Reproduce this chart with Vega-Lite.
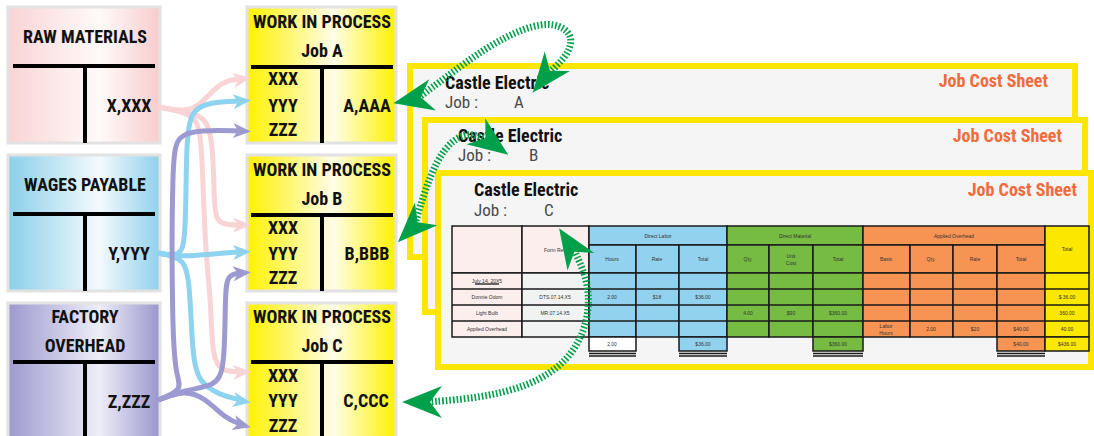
{
  "$schema": "https://vega.github.io/schema/vega-lite/v6.json",
  "width": 1094,
  "height": 436,
  "autosize": {"type": "none"},
  "padding": 0,
  "background": "white",
  "config": {"view": {"stroke": null}},
  "datasets": {
    "sheets": [
      {"x": 410, "x2": 1075, "y": 66, "y2": 257},
      {"x": 425, "x2": 1085, "y": 120, "y2": 312},
      {"x": 438, "x2": 1091, "y": 173, "y2": 367}
    ],
    "boxes": [
      {"k": "rm", "x": 8, "x2": 160, "y": 7, "y2": 143},
      {"k": "wp", "x": 8, "x2": 160, "y": 155, "y2": 291},
      {"k": "fo", "x": 8, "x2": 160, "y": 303, "y2": 440},
      {"k": "wip", "x": 247, "x2": 396, "y": 7, "y2": 143},
      {"k": "wip", "x": 247, "x2": 396, "y": 155, "y2": 291},
      {"k": "wip", "x": 247, "x2": 396, "y": 303, "y2": 440}
    ],
    "tlines": [
      {"x": 13, "x2": 155, "y": 66, "y2": 66},
      {"x": 85, "x2": 85, "y": 66, "y2": 143},
      {"x": 13, "x2": 155, "y": 214, "y2": 214},
      {"x": 85, "x2": 85, "y": 214, "y2": 291},
      {"x": 13, "x2": 155, "y": 362, "y2": 362},
      {"x": 85, "x2": 85, "y": 362, "y2": 440},
      {"x": 251, "x2": 393, "y": 67, "y2": 67},
      {"x": 322, "x2": 322, "y": 67, "y2": 143},
      {"x": 251, "x2": 393, "y": 215, "y2": 215},
      {"x": 322, "x2": 322, "y": 215, "y2": 291},
      {"x": 251, "x2": 393, "y": 362, "y2": 362},
      {"x": 322, "x2": 322, "y": 362, "y2": 440}
    ],
    "labels": [
      {"g": "acct", "x": 85, "y": 38, "text": "RAW MATERIALS"},
      {"g": "acct", "x": 85, "y": 186, "text": "WAGES PAYABLE"},
      {"g": "acct", "x": 85, "y": 318, "text": "FACTORY"},
      {"g": "acct", "x": 85, "y": 347, "text": "OVERHEAD"},
      {"g": "acct", "x": 129, "y": 107, "text": "X,XXX"},
      {"g": "acct", "x": 129, "y": 255, "text": "Y,YYY"},
      {"g": "acct", "x": 129, "y": 403, "text": "Z,ZZZ"},
      {"g": "acct", "x": 322, "y": 23, "text": "WORK IN PROCESS"},
      {"g": "acct", "x": 322, "y": 52, "text": "Job A"},
      {"g": "acct", "x": 283, "y": 80, "text": "XXX"},
      {"g": "acct", "x": 283, "y": 107, "text": "YYY"},
      {"g": "acct", "x": 283, "y": 131, "text": "ZZZ"},
      {"g": "acct", "x": 367, "y": 107, "text": "A,AAA"},
      {"g": "acct", "x": 322, "y": 171, "text": "WORK IN PROCESS"},
      {"g": "acct", "x": 322, "y": 200, "text": "Job B"},
      {"g": "acct", "x": 283, "y": 229, "text": "XXX"},
      {"g": "acct", "x": 283, "y": 255, "text": "YYY"},
      {"g": "acct", "x": 283, "y": 279, "text": "ZZZ"},
      {"g": "acct", "x": 367, "y": 255, "text": "B,BBB"},
      {"g": "acct", "x": 322, "y": 318, "text": "WORK IN PROCESS"},
      {"g": "acct", "x": 322, "y": 347, "text": "Job C"},
      {"g": "acct", "x": 283, "y": 377, "text": "XXX"},
      {"g": "acct", "x": 283, "y": 402, "text": "YYY"},
      {"g": "acct", "x": 283, "y": 427, "text": "ZZZ"},
      {"g": "acct", "x": 366, "y": 402, "text": "C,CCC"},
      {"g": "ce", "x": 445, "y": 84, "text": "Castle Electric"},
      {"g": "ce", "x": 458, "y": 137, "text": "Castle Electric"},
      {"g": "ce", "x": 474, "y": 191, "text": "Castle Electric"},
      {"g": "job", "x": 445, "y": 103, "text": "Job :"},
      {"g": "job", "x": 514, "y": 103, "text": "A"},
      {"g": "job", "x": 458, "y": 156, "text": "Job :"},
      {"g": "job", "x": 529, "y": 156, "text": "B"},
      {"g": "job", "x": 474, "y": 211, "text": "Job :"},
      {"g": "job", "x": 544, "y": 211, "text": "C"},
      {"g": "jcs", "x": 1048, "y": 82, "text": "Job Cost Sheet"},
      {"g": "jcs", "x": 1062, "y": 137, "text": "Job Cost Sheet"},
      {"g": "jcs", "x": 1077, "y": 191, "text": "Job Cost Sheet"}
    ],
    "cells": [
      {"c": "pink", "x": 452, "x2": 522, "y": 226, "y2": 273},
      {"c": "pink", "x": 522, "x2": 589, "y": 226, "y2": 273},
      {"c": "blue", "x": 589, "x2": 727, "y": 226, "y2": 245},
      {"c": "blue", "x": 589, "x2": 636, "y": 245, "y2": 273},
      {"c": "blue", "x": 636, "x2": 679, "y": 245, "y2": 273},
      {"c": "blue", "x": 679, "x2": 727, "y": 245, "y2": 273},
      {"c": "green", "x": 727, "x2": 863, "y": 226, "y2": 245},
      {"c": "green", "x": 727, "x2": 769, "y": 245, "y2": 273},
      {"c": "green", "x": 769, "x2": 813, "y": 245, "y2": 273},
      {"c": "green", "x": 813, "x2": 863, "y": 245, "y2": 273},
      {"c": "orange", "x": 863, "x2": 1045, "y": 226, "y2": 245},
      {"c": "orange", "x": 863, "x2": 910, "y": 245, "y2": 273},
      {"c": "orange", "x": 910, "x2": 953, "y": 245, "y2": 273},
      {"c": "orange", "x": 953, "x2": 997, "y": 245, "y2": 273},
      {"c": "orange", "x": 997, "x2": 1045, "y": 245, "y2": 273},
      {"c": "yellow", "x": 1045, "x2": 1089, "y": 226, "y2": 273},
      {"c": "pink", "x": 452, "x2": 522, "y": 273, "y2": 337},
      {"c": "gray", "x": 522, "x2": 589, "y": 273, "y2": 337},
      {"c": "blue", "x": 589, "x2": 636, "y": 273, "y2": 337},
      {"c": "blue", "x": 636, "x2": 679, "y": 273, "y2": 337},
      {"c": "blue", "x": 679, "x2": 727, "y": 273, "y2": 337},
      {"c": "green", "x": 727, "x2": 769, "y": 273, "y2": 337},
      {"c": "green", "x": 769, "x2": 813, "y": 273, "y2": 337},
      {"c": "green", "x": 813, "x2": 863, "y": 273, "y2": 337},
      {"c": "orange", "x": 863, "x2": 910, "y": 273, "y2": 337},
      {"c": "orange", "x": 910, "x2": 953, "y": 273, "y2": 337},
      {"c": "orange", "x": 953, "x2": 997, "y": 273, "y2": 337},
      {"c": "orange", "x": 997, "x2": 1045, "y": 273, "y2": 337},
      {"c": "yellow", "x": 1045, "x2": 1089, "y": 273, "y2": 337},
      {"c": "white", "x": 589, "x2": 636, "y": 337, "y2": 351},
      {"c": "blue", "x": 679, "x2": 727, "y": 337, "y2": 351},
      {"c": "green", "x": 813, "x2": 863, "y": 337, "y2": 351},
      {"c": "orange", "x": 997, "x2": 1045, "y": 337, "y2": 351},
      {"c": "yellow", "x": 1045, "x2": 1089, "y": 337, "y2": 351}
    ],
    "trules": [
      {"x": 452, "x2": 1089, "y": 289, "y2": 289},
      {"x": 452, "x2": 1089, "y": 305, "y2": 305},
      {"x": 452, "x2": 1089, "y": 321, "y2": 321},
      {"x": 589, "x2": 636, "y": 353.5, "y2": 353.5},
      {"x": 589, "x2": 636, "y": 356, "y2": 356},
      {"x": 679, "x2": 727, "y": 353.5, "y2": 353.5},
      {"x": 679, "x2": 727, "y": 356, "y2": 356},
      {"x": 813, "x2": 863, "y": 353.5, "y2": 353.5},
      {"x": 813, "x2": 863, "y": 356, "y2": 356},
      {"x": 997, "x2": 1045, "y": 353.5, "y2": 353.5},
      {"x": 997, "x2": 1045, "y": 356, "y2": 356},
      {"x": 475, "x2": 499, "y": 284, "y2": 284}
    ],
    "ttext": [
      {"x": 555, "y": 250, "text": "Form Ref."},
      {"x": 658, "y": 235.5, "text": "Direct Labor"},
      {"x": 612, "y": 259, "text": "Hours"},
      {"x": 657, "y": 259, "text": "Rate"},
      {"x": 703, "y": 259, "text": "Total"},
      {"x": 795, "y": 235.5, "text": "Direct Material"},
      {"x": 748, "y": 259, "text": "Qty."},
      {"x": 791, "y": 256, "text": "Unit\nCost"},
      {"x": 838, "y": 259, "text": "Total"},
      {"x": 954, "y": 235.5, "text": "Applied Overhead"},
      {"x": 886, "y": 259, "text": "Basis"},
      {"x": 931, "y": 259, "text": "Qty."},
      {"x": 975, "y": 259, "text": "Rate"},
      {"x": 1021, "y": 259, "text": "Total"},
      {"x": 1067, "y": 249, "text": "Total"},
      {"x": 487, "y": 281, "text": "July 14, 20X5"},
      {"x": 487, "y": 297, "text": "Donnie Odom"},
      {"x": 555, "y": 297, "text": "DTS.07.14.X5"},
      {"x": 612, "y": 297, "text": "2.00"},
      {"x": 657, "y": 297, "text": "$18"},
      {"x": 703, "y": 297, "text": "$36.00"},
      {"x": 1067, "y": 297, "text": "$ 36.00"},
      {"x": 487, "y": 313, "text": "Light Bulb"},
      {"x": 555, "y": 313, "text": "MR.07.14.X5"},
      {"x": 748, "y": 313, "text": "4.00"},
      {"x": 791, "y": 313, "text": "$90"},
      {"x": 838, "y": 313, "text": "$360.00"},
      {"x": 1067, "y": 313, "text": "360.00"},
      {"x": 487, "y": 329, "text": "Applied Overhead"},
      {"x": 886, "y": 326, "text": "Labor\nHours"},
      {"x": 931, "y": 329, "text": "2.00"},
      {"x": 975, "y": 329, "text": "$20"},
      {"x": 1021, "y": 329, "text": "$40.00"},
      {"x": 1067, "y": 329, "text": "40.00"},
      {"x": 612, "y": 344, "text": "2.00"},
      {"x": 703, "y": 344, "text": "$36.00"},
      {"x": 838, "y": 344, "text": "$360.00"},
      {"x": 1021, "y": 344, "text": "$40.00"},
      {"x": 1067, "y": 344, "text": "$436.00"}
    ],
    "flows": [
      {"p": "pA", "c": "rm", "o": 1, "x": 158, "y": 107},
      {"p": "pA", "c": "rm", "o": 2, "x": 185, "y": 112},
      {"p": "pA", "c": "rm", "o": 3, "x": 200, "y": 105},
      {"p": "pA", "c": "rm", "o": 4, "x": 215, "y": 88},
      {"p": "pA", "c": "rm", "o": 5, "x": 228, "y": 80},
      {"p": "pA", "c": "rm", "o": 6, "x": 240, "y": 79},
      {"p": "pB", "c": "rm", "o": 1, "x": 158, "y": 107},
      {"p": "pB", "c": "rm", "o": 2, "x": 185, "y": 112},
      {"p": "pB", "c": "rm", "o": 3, "x": 205, "y": 116},
      {"p": "pB", "c": "rm", "o": 4, "x": 213, "y": 140},
      {"p": "pB", "c": "rm", "o": 5, "x": 214, "y": 200},
      {"p": "pB", "c": "rm", "o": 6, "x": 216, "y": 222},
      {"p": "pB", "c": "rm", "o": 7, "x": 228, "y": 225},
      {"p": "pB", "c": "rm", "o": 8, "x": 240, "y": 225},
      {"p": "pC", "c": "rm", "o": 1, "x": 158, "y": 107},
      {"p": "pC", "c": "rm", "o": 2, "x": 185, "y": 112},
      {"p": "pC", "c": "rm", "o": 3, "x": 198, "y": 120},
      {"p": "pC", "c": "rm", "o": 4, "x": 202, "y": 145},
      {"p": "pC", "c": "rm", "o": 5, "x": 205, "y": 250},
      {"p": "pC", "c": "rm", "o": 6, "x": 211, "y": 300},
      {"p": "pC", "c": "rm", "o": 7, "x": 212, "y": 355},
      {"p": "pC", "c": "rm", "o": 8, "x": 220, "y": 371},
      {"p": "pC", "c": "rm", "o": 9, "x": 240, "y": 372},
      {"p": "bA", "c": "wp", "o": 1, "x": 158, "y": 253},
      {"p": "bA", "c": "wp", "o": 2, "x": 180, "y": 257},
      {"p": "bA", "c": "wp", "o": 3, "x": 186, "y": 240},
      {"p": "bA", "c": "wp", "o": 4, "x": 186, "y": 140},
      {"p": "bA", "c": "wp", "o": 5, "x": 191, "y": 110},
      {"p": "bA", "c": "wp", "o": 6, "x": 210, "y": 102},
      {"p": "bA", "c": "wp", "o": 7, "x": 240, "y": 101},
      {"p": "bB", "c": "wp", "o": 1, "x": 158, "y": 253},
      {"p": "bB", "c": "wp", "o": 2, "x": 185, "y": 257},
      {"p": "bB", "c": "wp", "o": 3, "x": 210, "y": 254},
      {"p": "bB", "c": "wp", "o": 4, "x": 240, "y": 252},
      {"p": "bC", "c": "wp", "o": 1, "x": 158, "y": 253},
      {"p": "bC", "c": "wp", "o": 2, "x": 180, "y": 257},
      {"p": "bC", "c": "wp", "o": 3, "x": 190, "y": 272},
      {"p": "bC", "c": "wp", "o": 4, "x": 192, "y": 360},
      {"p": "bC", "c": "wp", "o": 5, "x": 200, "y": 383},
      {"p": "bC", "c": "wp", "o": 6, "x": 220, "y": 395},
      {"p": "bC", "c": "wp", "o": 7, "x": 240, "y": 400},
      {"p": "uA", "c": "fo", "o": 1, "x": 158, "y": 400},
      {"p": "uA", "c": "fo", "o": 2, "x": 183, "y": 390},
      {"p": "uA", "c": "fo", "o": 3, "x": 176, "y": 376},
      {"p": "uA", "c": "fo", "o": 4, "x": 172, "y": 330},
      {"p": "uA", "c": "fo", "o": 5, "x": 172, "y": 160},
      {"p": "uA", "c": "fo", "o": 6, "x": 177, "y": 135},
      {"p": "uA", "c": "fo", "o": 7, "x": 200, "y": 130},
      {"p": "uA", "c": "fo", "o": 8, "x": 240, "y": 131},
      {"p": "uB", "c": "fo", "o": 1, "x": 158, "y": 400},
      {"p": "uB", "c": "fo", "o": 2, "x": 185, "y": 390},
      {"p": "uB", "c": "fo", "o": 3, "x": 215, "y": 386},
      {"p": "uB", "c": "fo", "o": 4, "x": 225, "y": 370},
      {"p": "uB", "c": "fo", "o": 5, "x": 225, "y": 290},
      {"p": "uB", "c": "fo", "o": 6, "x": 228, "y": 275},
      {"p": "uB", "c": "fo", "o": 7, "x": 240, "y": 273},
      {"p": "uC", "c": "fo", "o": 1, "x": 158, "y": 400},
      {"p": "uC", "c": "fo", "o": 2, "x": 185, "y": 390},
      {"p": "uC", "c": "fo", "o": 3, "x": 205, "y": 398},
      {"p": "uC", "c": "fo", "o": 4, "x": 225, "y": 418},
      {"p": "uC", "c": "fo", "o": 5, "x": 240, "y": 424}
    ],
    "heads": [
      {"c": "rm", "x": 242, "y": 79, "ang": -10},
      {"c": "rm", "x": 242, "y": 225, "ang": 0},
      {"c": "rm", "x": 242, "y": 372, "ang": -3},
      {"c": "wp", "x": 242, "y": 101, "ang": -5},
      {"c": "wp", "x": 242, "y": 252, "ang": -3},
      {"c": "wp", "x": 242, "y": 401, "ang": 10},
      {"c": "fo", "x": 242, "y": 131, "ang": 3},
      {"c": "fo", "x": 242, "y": 273, "ang": -5},
      {"c": "fo", "x": 242, "y": 425, "ang": 15}
    ],
    "arcs": [
      {"p": "A", "o": 1, "x": 418, "y": 98},
      {"p": "A", "o": 2, "x": 445, "y": 78},
      {"p": "A", "o": 3, "x": 485, "y": 48},
      {"p": "A", "o": 4, "x": 525, "y": 27},
      {"p": "A", "o": 5, "x": 555, "y": 22},
      {"p": "A", "o": 6, "x": 574, "y": 35},
      {"p": "A", "o": 7, "x": 568, "y": 55},
      {"p": "A", "o": 8, "x": 550, "y": 72},
      {"p": "B", "o": 1, "x": 415, "y": 224},
      {"p": "B", "o": 2, "x": 425, "y": 190},
      {"p": "B", "o": 3, "x": 437, "y": 160},
      {"p": "B", "o": 4, "x": 452, "y": 140},
      {"p": "B", "o": 5, "x": 470, "y": 132},
      {"p": "B", "o": 6, "x": 487, "y": 140},
      {"p": "C", "o": 1, "x": 428, "y": 402},
      {"p": "C", "o": 2, "x": 480, "y": 398},
      {"p": "C", "o": 3, "x": 530, "y": 386},
      {"p": "C", "o": 4, "x": 568, "y": 362},
      {"p": "C", "o": 5, "x": 588, "y": 325},
      {"p": "C", "o": 6, "x": 590, "y": 285},
      {"p": "C", "o": 7, "x": 575, "y": 252}
    ],
    "gheads": [
      {"x": 413, "y": 99, "ang": 168},
      {"x": 545, "y": 77, "ang": 128},
      {"x": 412, "y": 228, "ang": 135},
      {"x": 492, "y": 143, "ang": 36},
      {"x": 422, "y": 402, "ang": 180},
      {"x": 570, "y": 245, "ang": 237}
    ]
  },
  "encoding": {
    "x": {"field": "x", "type": "quantitative", "scale": {"domain": [0, 1094], "nice": false, "zero": false}, "axis": null},
    "y": {"field": "y", "type": "quantitative", "scale": {"domain": [0, 436], "nice": false, "zero": false, "reverse": true}, "axis": null}
  },
  "layer": [
    {
      "data": {"name": "sheets"},
      "mark": {"type": "rect", "fill": "#f5f5f5", "stroke": "#ffe600", "strokeWidth": 6},
      "encoding": {"x2": {"field": "x2"}, "y2": {"field": "y2"}}
    },
    {
      "data": {"name": "labels"},
      "transform": [{"filter": "datum.g === 'ce'"}],
      "mark": {"type": "text", "align": "left", "baseline": "middle", "font": "Roboto Condensed, Liberation Sans Narrow, DejaVu Sans Condensed, sans-serif", "fontWeight": "bold", "fontSize": 18, "color": "#111111"},
      "encoding": {"text": {"field": "text"}}
    },
    {
      "data": {"name": "labels"},
      "transform": [{"filter": "datum.g === 'job'"}],
      "mark": {"type": "text", "align": "left", "baseline": "middle", "font": "Roboto Condensed, Liberation Sans Narrow, DejaVu Sans Condensed, sans-serif", "fontSize": 17, "color": "#4a4a4a"},
      "encoding": {"text": {"field": "text"}}
    },
    {
      "data": {"name": "labels"},
      "transform": [{"filter": "datum.g === 'jcs'"}],
      "mark": {"type": "text", "align": "right", "baseline": "middle", "font": "Roboto Condensed, Liberation Sans Narrow, DejaVu Sans Condensed, sans-serif", "fontWeight": "bold", "fontSize": 18, "color": "#f26b3b"},
      "encoding": {"text": {"field": "text"}}
    },
    {
      "data": {"name": "cells"},
      "mark": {"type": "rect", "stroke": "#1a1a1a", "strokeWidth": 1.5},
      "encoding": {
        "x2": {"field": "x2"}, "y2": {"field": "y2"},
        "fill": {"field": "c", "type": "nominal", "legend": null, "scale": {"domain": ["pink", "gray", "blue", "green", "orange", "yellow", "white"], "range": ["#fdeeee", "#f1f2f2", "#93d2ee", "#76bc43", "#f79453", "#fbe700", "#ffffff"]}}
      }
    },
    {
      "data": {"name": "trules"},
      "mark": {"type": "rule", "color": "#1a1a1a", "strokeWidth": 1.3},
      "encoding": {"x2": {"field": "x2"}, "y2": {"field": "y2"}}
    },
    {
      "data": {"name": "ttext"},
      "mark": {"type": "text", "align": "center", "baseline": "middle", "font": "Liberation Sans, Arial, sans-serif", "fontSize": 5, "lineBreak": "\n", "color": "#333333"},
      "encoding": {"text": {"field": "text"}}
    },
    {
      "data": {"name": "boxes"},
      "transform": [{"filter": "datum.k === 'rm'"}],
      "mark": {"type": "rect", "stroke": "#e2e2e2", "strokeWidth": 3, "fill": {"gradient": "linear", "x1": 0, "y1": 0, "x2": 1, "y2": 0, "stops": [{"offset": 0, "color": "#f9d4d4"}, {"offset": 0.6, "color": "#fffafa"}, {"offset": 1, "color": "#f8cccc"}]}},
      "encoding": {"x2": {"field": "x2"}, "y2": {"field": "y2"}}
    },
    {
      "data": {"name": "boxes"},
      "transform": [{"filter": "datum.k === 'wp'"}],
      "mark": {"type": "rect", "stroke": "#e2e2e2", "strokeWidth": 3, "fill": {"gradient": "linear", "x1": 0, "y1": 0, "x2": 1, "y2": 0, "stops": [{"offset": 0, "color": "#8bcfea"}, {"offset": 0.6, "color": "#f4fafd"}, {"offset": 1, "color": "#8fd0ec"}]}},
      "encoding": {"x2": {"field": "x2"}, "y2": {"field": "y2"}}
    },
    {
      "data": {"name": "boxes"},
      "transform": [{"filter": "datum.k === 'fo'"}],
      "mark": {"type": "rect", "stroke": "#e2e2e2", "strokeWidth": 3, "fill": {"gradient": "linear", "x1": 0, "y1": 0, "x2": 1, "y2": 0, "stops": [{"offset": 0, "color": "#9d99cf"}, {"offset": 0.6, "color": "#eeeef8"}, {"offset": 1, "color": "#9a96cc"}]}},
      "encoding": {"x2": {"field": "x2"}, "y2": {"field": "y2"}}
    },
    {
      "data": {"name": "boxes"},
      "transform": [{"filter": "datum.k === 'wip'"}],
      "mark": {"type": "rect", "stroke": "#e2e2e2", "strokeWidth": 3, "fill": {"gradient": "linear", "x1": 0, "y1": 0, "x2": 1, "y2": 0, "stops": [{"offset": 0, "color": "#fff100"}, {"offset": 0.58, "color": "#fffde8"}, {"offset": 1, "color": "#fff100"}]}},
      "encoding": {"x2": {"field": "x2"}, "y2": {"field": "y2"}}
    },
    {
      "data": {"name": "tlines"},
      "mark": {"type": "rule", "color": "#000000", "strokeWidth": 4},
      "encoding": {"x2": {"field": "x2"}, "y2": {"field": "y2"}}
    },
    {
      "data": {"name": "labels"},
      "transform": [{"filter": "datum.g === 'acct'"}],
      "mark": {"type": "text", "align": "center", "baseline": "middle", "font": "Roboto Condensed, Liberation Sans Narrow, DejaVu Sans Condensed, sans-serif", "fontWeight": "bold", "fontSize": 18, "color": "#111111"},
      "encoding": {"text": {"field": "text"}}
    },
    {
      "data": {"name": "flows"},
      "mark": {"type": "line", "interpolate": "basis", "strokeWidth": 5, "strokeCap": "butt"},
      "encoding": {
        "detail": {"field": "p"},
        "order": {"field": "o", "type": "quantitative"},
        "color": {"field": "c", "type": "nominal", "legend": null, "scale": {"domain": ["rm", "wp", "fo"], "range": ["#f8d4d6", "#8ed3ef", "#9c9ad1"]}}
      }
    },
    {
      "data": {"name": "heads"},
      "mark": {"type": "point", "filled": true, "opacity": 1, "size": 320, "shape": "M 1 0 L -1 -0.85 L -0.45 0 L -1 0.85 Z"},
      "encoding": {
        "angle": {"field": "ang", "type": "quantitative", "scale": null},
        "color": {"field": "c", "type": "nominal", "legend": null, "scale": {"domain": ["rm", "wp", "fo"], "range": ["#f8d4d6", "#8ed3ef", "#9c9ad1"]}}
      }
    },
    {
      "data": {"name": "arcs"},
      "mark": {"type": "line", "interpolate": "basis", "strokeWidth": 7, "strokeDash": [1.6, 2], "color": "#00a04b"},
      "encoding": {
        "detail": {"field": "p"},
        "order": {"field": "o", "type": "quantitative"}
      }
    },
    {
      "data": {"name": "gheads"},
      "mark": {"type": "point", "filled": true, "opacity": 1, "size": 1600, "color": "#00a04b", "shape": "M 1 0 L -1 -0.8 L -0.4 0 L -1 0.8 Z"},
      "encoding": {
        "angle": {"field": "ang", "type": "quantitative", "scale": null}
      }
    }
  ]
}
